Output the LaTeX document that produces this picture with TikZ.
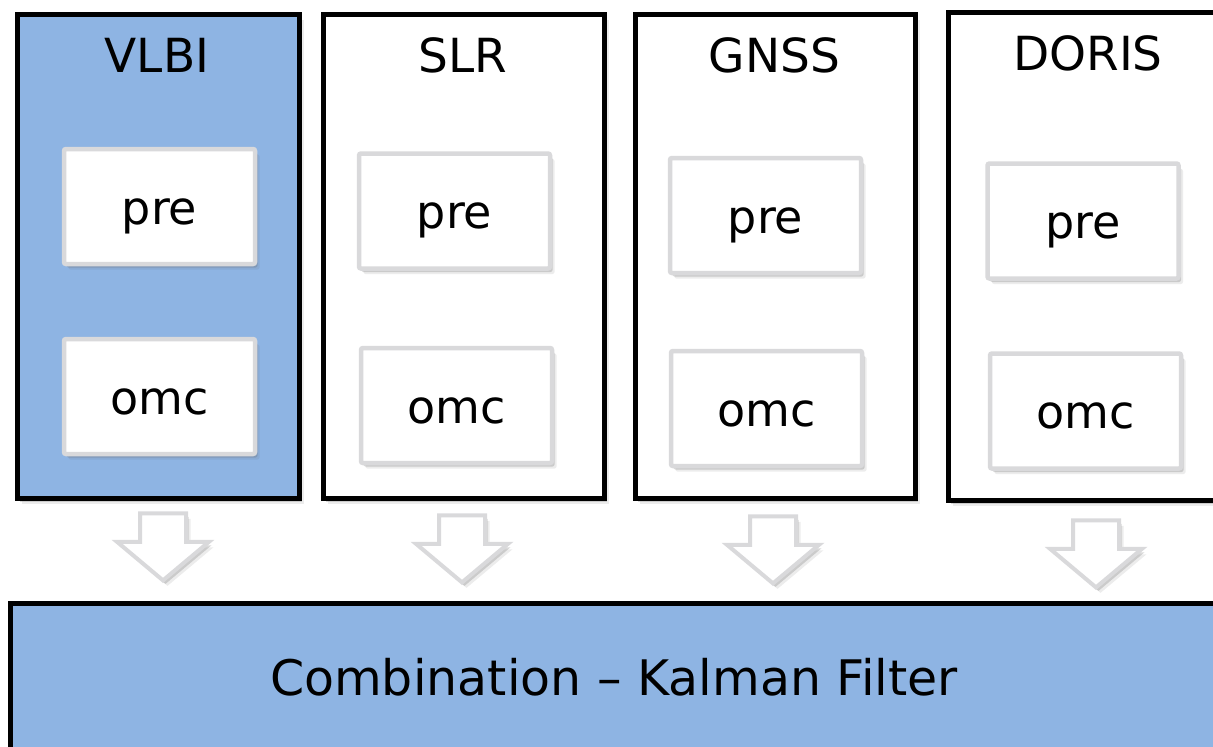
\documentclass[tikz,border=0pt]{standalone}
\usepackage{fontspec}
\setmainfont{DejaVu Sans}
\usetikzlibrary{shadows,shapes.arrows}
\definecolor{boxblue}{RGB}{142,180,227}
\definecolor{lightframe}{RGB}{217,217,219}
\tikzset{
  softshadow/.style={
    drop shadow={shadow xshift=4.5pt, shadow yshift=-5.5pt, fill=black!60, opacity=0.12},
    drop shadow={shadow xshift=2.5pt, shadow yshift=-3.5pt, fill=black!60, opacity=0.25}},
  outerbox/.style={draw=black, line width=5pt, rectangle, inner sep=0pt, softshadow},
  titletext/.style={anchor=base, inner sep=0pt, font=\fontsize{47}{56}\selectfont},
  innerbox/.style={draw=lightframe, fill=white, line width=4.5pt, rounded corners=2pt,
    minimum width=191pt, minimum height=115pt, inner sep=0pt,
    text height=35pt, text depth=0pt, font=\fontsize{46}{55}\selectfont, softshadow},
  blockarrow/.style={single arrow, draw=lightframe, fill=white, line width=4pt,
    rotate=-90, anchor=tip, inner xsep=0pt, inner ysep=21pt,
    minimum width=88pt, minimum height=67pt, single arrow head extend=23pt,
    single arrow tip angle=100, softshadow},
  combobox/.style={draw=black, fill=boxblue, line width=5pt, rectangle, inner sep=0pt,
    minimum width=1208pt, minimum height=148pt, text height=35pt, text depth=0pt,
    font=\fontsize{49}{58}\selectfont}
}
\begin{document}
\begin{tikzpicture}[x=1pt,y=-1pt]
\useasboundingbox (0,0) rectangle (1213,747);
\clip (0,0) rectangle (1213,747);
% outer boxes
\node[outerbox, fill=boxblue, minimum width=282pt, minimum height=484pt] (vlbi) at (158.5,256.5) {};
\node[outerbox, fill=white, minimum width=281pt, minimum height=484pt] (slr) at (463.5,256.5) {};
\node[outerbox, fill=white, minimum width=280pt, minimum height=484pt] (gnss) at (775,256.5) {};
\node[outerbox, fill=white, minimum width=282pt, minimum height=487.5pt] (doris) at (1089,256.25) {};
% titles
\node[titletext] (tvlbi) at (157,72) {VLBI};
\node[titletext] (tslr) at (463,72) {SLR};
\node[titletext] (tgnss) at (774.5,72) {GNSS};
\node[titletext] (tdoris) at (1088,70) {DORIS};
% inner boxes
\node[innerbox] (prevlbi) at (159.5,206.5) {pre};
\node[innerbox] (omcvlbi) at (159.5,396.5) {omc};
\node[innerbox] (preslr) at (454.5,211) {pre};
\node[innerbox] (omcslr) at (456.5,405.5) {omc};
\node[innerbox] (pregnss) at (765.5,215.5) {pre};
\node[innerbox] (omcgnss) at (766.5,408.5) {omc};
\node[innerbox] (predoris) at (1083,221) {pre};
\node[innerbox] (omcdoris) at (1085.5,411) {omc};
% combination box
\node[combobox] (comb) at (614,677.5) {Combination -- Kalman Filter};
% block arrows
\node[blockarrow] (avlbi) at (163,583) {};
\node[blockarrow] (aslr) at (462,585) {};
\node[blockarrow] (agnss) at (773,586) {};
\node[blockarrow] (adoris) at (1096,590) {};
\end{tikzpicture}
\end{document}
